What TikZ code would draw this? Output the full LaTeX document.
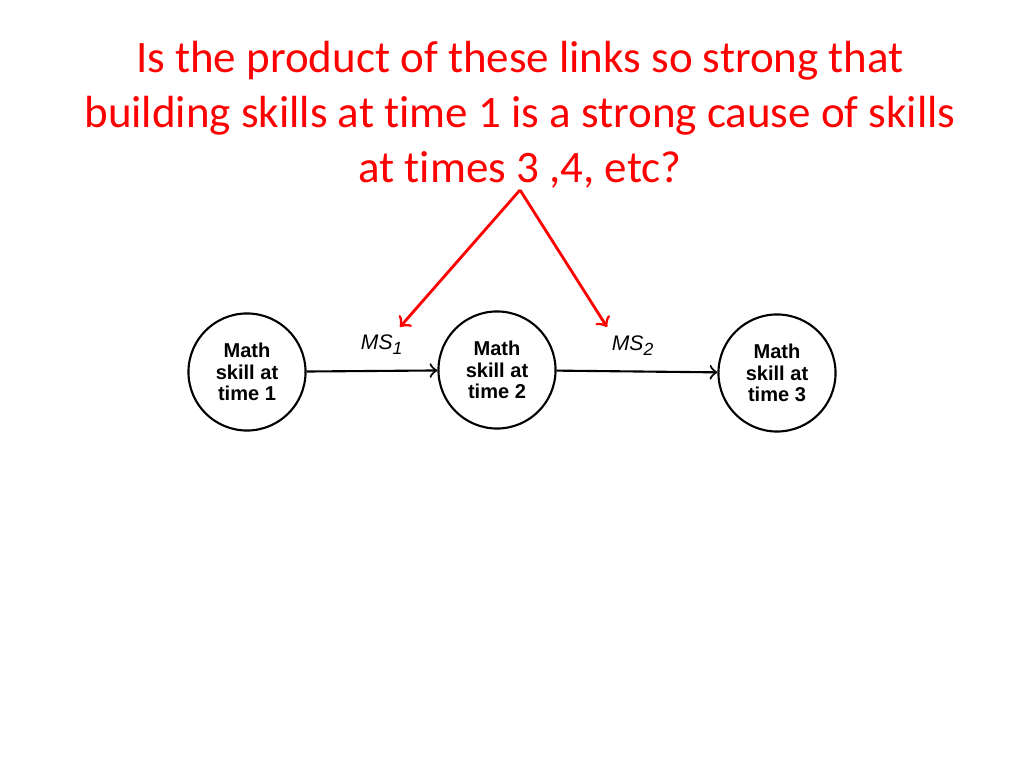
\documentclass[tikz,border=0pt]{standalone}
\usepackage{fontspec}
\setmainfont{Carlito}[Ligatures=NoCommon]
\setsansfont{Liberation Sans}
\begin{document}
\begin{tikzpicture}[x=0.01cm, y=-0.01cm,
  skill/.style={draw, semithick, circle, minimum size=1.17cm, inner sep=0pt, align=center,
    font=\sffamily\bfseries\fontsize{5.7pt}{6.1pt}\selectfont},
  link/.style={->, semithick},
  redlink/.style={->, red, thick}]
    \useasboundingbox (0,0) rectangle (1024,768);
    % question
    \node[red, align=center, font=\fontsize{12.8pt}{15.6pt}\selectfont] (q) at (520,115)
      {Is the product of these links so strong that\\
       building skills at time 1 is a strong cause of skills\\
       at times 3 ,4, etc?};
    \coordinate (tip) at (520,190);
    % skills
    \node[skill] (s1) at (247,372) {Math\\skill at\\time 1};
    \node[skill] (s2) at (497,370) {Math\\skill at\\time 2};
    \node[skill] (s3) at (777,373) {Math\\skill at\\time 3};
    \draw[link] (s1) -- (s2) node[midway, above=1pt, xshift=3pt, font=\sffamily\itshape\fontsize{6pt}{7pt}\selectfont] (ms1) {MS\textsubscript{1}};
    \draw[link] (s2) -- (s3) node[midway, above=1pt, xshift=-1pt, font=\sffamily\itshape\fontsize{6pt}{7pt}\selectfont] (ms2) {MS\textsubscript{2}};
    \coordinate (c1) at (400,327);
    \coordinate (c2) at (607,327);
    \draw[redlink] (tip) -- (c1);
    \draw[redlink] (tip) -- (c2);
\end{tikzpicture}
\end{document}
